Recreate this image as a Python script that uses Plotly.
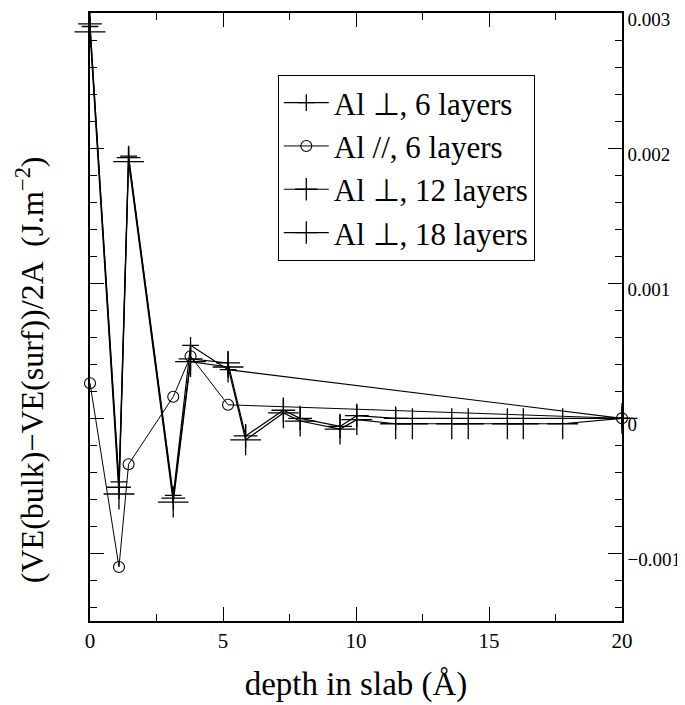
import plotly.graph_objects as go

# ---- data (depth in Å, energy in J/m^2) ----
x_perp6 = [0, 1.09, 1.45, 3.13, 3.78, 5.19, 20]
y_perp6 = [0.00290, -0.00047, 0.00194, -0.00057, 0.00054, 0.00036, 0.0]

x_par6 = [0, 1.09, 1.45, 3.13, 3.78, 5.19, 20]
y_par6 = [0.00026, -0.00110, -0.00034, 0.00016, 0.00046, 0.00010, 0.0]

x_perp12 = [0, 1.09, 1.45, 3.13, 3.78, 5.19, 5.85, 7.27, 7.9, 9.4, 10.03, 11.49, 20]
y_perp12 = [0.00292, -0.00051, 0.00193, -0.00059, 0.00044, 0.00041, -0.00013,
            0.00006, 0.00000, -0.00006, 0.00002, 0.00000, 0.0]

x_perp18 = [0, 1.09, 1.45, 3.13, 3.78, 5.19, 5.85, 7.27, 7.9, 9.4, 10.03, 11.49,
            12.12, 13.6, 14.22, 15.69, 16.29, 17.77, 20]
y_perp18 = [0.00286, -0.00056, 0.00190, -0.00062, 0.00042, 0.00038, -0.00016,
            0.00004, -0.00002, -0.00008, -0.00001, -0.00004, -0.00004, -0.00004,
            -0.00004, -0.00004, -0.00004, -0.00004, 0.0]

series_names = ["Al \u22a5, 6 layers", "Al //, 6 layers", "Al \u22a5, 12 layers", "Al \u22a5, 18 layers"]

FONT = "Liberation Serif"

fig = go.Figure()
fig.add_trace(go.Scatter(x=x_perp6, y=y_perp6, name=series_names[0], mode="lines+markers",
                         line=dict(color="black", width=1.2),
                         marker=dict(symbol="cross-thin", size=12, line=dict(color="black", width=1.3)),
                         cliponaxis=False))
fig.add_trace(go.Scatter(x=x_par6, y=y_par6, name=series_names[1], mode="lines+markers",
                         line=dict(color="black", width=1),
                         marker=dict(symbol="circle-open", size=11, color="black", line=dict(color="black", width=1.1)),
                         cliponaxis=False))
fig.add_trace(go.Scatter(x=x_perp12, y=y_perp12, name=series_names[2], mode="lines+markers",
                         line=dict(color="black", width=1.2),
                         marker=dict(symbol="cross-thin", size=17, line=dict(color="black", width=1.3)),
                         cliponaxis=False))
fig.add_trace(go.Scatter(x=x_perp18, y=y_perp18, name=series_names[3], mode="lines+markers",
                         line=dict(color="black", width=1.2),
                         marker=dict(symbol="cross-thin", size=22, line=dict(color="black", width=1.3)),
                         cliponaxis=False))

axis_common = dict(showline=True, linecolor="black", linewidth=1.5, mirror="ticks",
                   ticks="inside", tickcolor="black", tickwidth=1.3, ticklen=14,
                   showgrid=False, zeroline=False, automargin=False,
                   ticklabeloverflow="allow")

fig.update_layout(
    width=677, height=697,
    margin=dict(l=82, r=63, t=5, b=84, autoexpand=False),
    paper_bgcolor="white", plot_bgcolor="white",
    font=dict(family=FONT, color="black"),
    showlegend=True,
    legend=dict(x=0.353, y=0.898, xanchor="left", yanchor="top",
                bgcolor="white", bordercolor="black", borderwidth=1,
                font=dict(family=FONT, size=31, color="black"),
                itemwidth=45, tracegroupgap=0),
    xaxis=dict(range=[0, 20], tickmode="linear", tick0=0, dtick=5,
               minor=dict(ticks="inside", ticklen=7, dtick=2.5, tickcolor="black", tickwidth=1.3),
               tickfont=dict(family=FONT, size=21),
               title=dict(text="depth in slab (\u00c5)", font=dict(family=FONT, size=33), standoff=20),
               **axis_common),
    yaxis=dict(range=[-0.0015, 0.003], side="right", tickmode="linear", tick0=0, dtick=0.001,
               minor=dict(ticks="inside", ticklen=7, dtick=0.0002, tickcolor="black", tickwidth=1.3),
               tickfont=dict(family=FONT, size=19), ticklabelshift=6,
               **axis_common),
)

fig.add_annotation(text="(VE(bulk)\u2212VE(surf))/2A  (J.m<sup>\u22122</sup>)",
                   xref="paper", yref="paper", x=-0.113, y=0.414, xanchor="center", yanchor="middle",
                   textangle=-90, showarrow=False, font=dict(family=FONT, size=32, color="black"))

fig.write_html("out.html")
